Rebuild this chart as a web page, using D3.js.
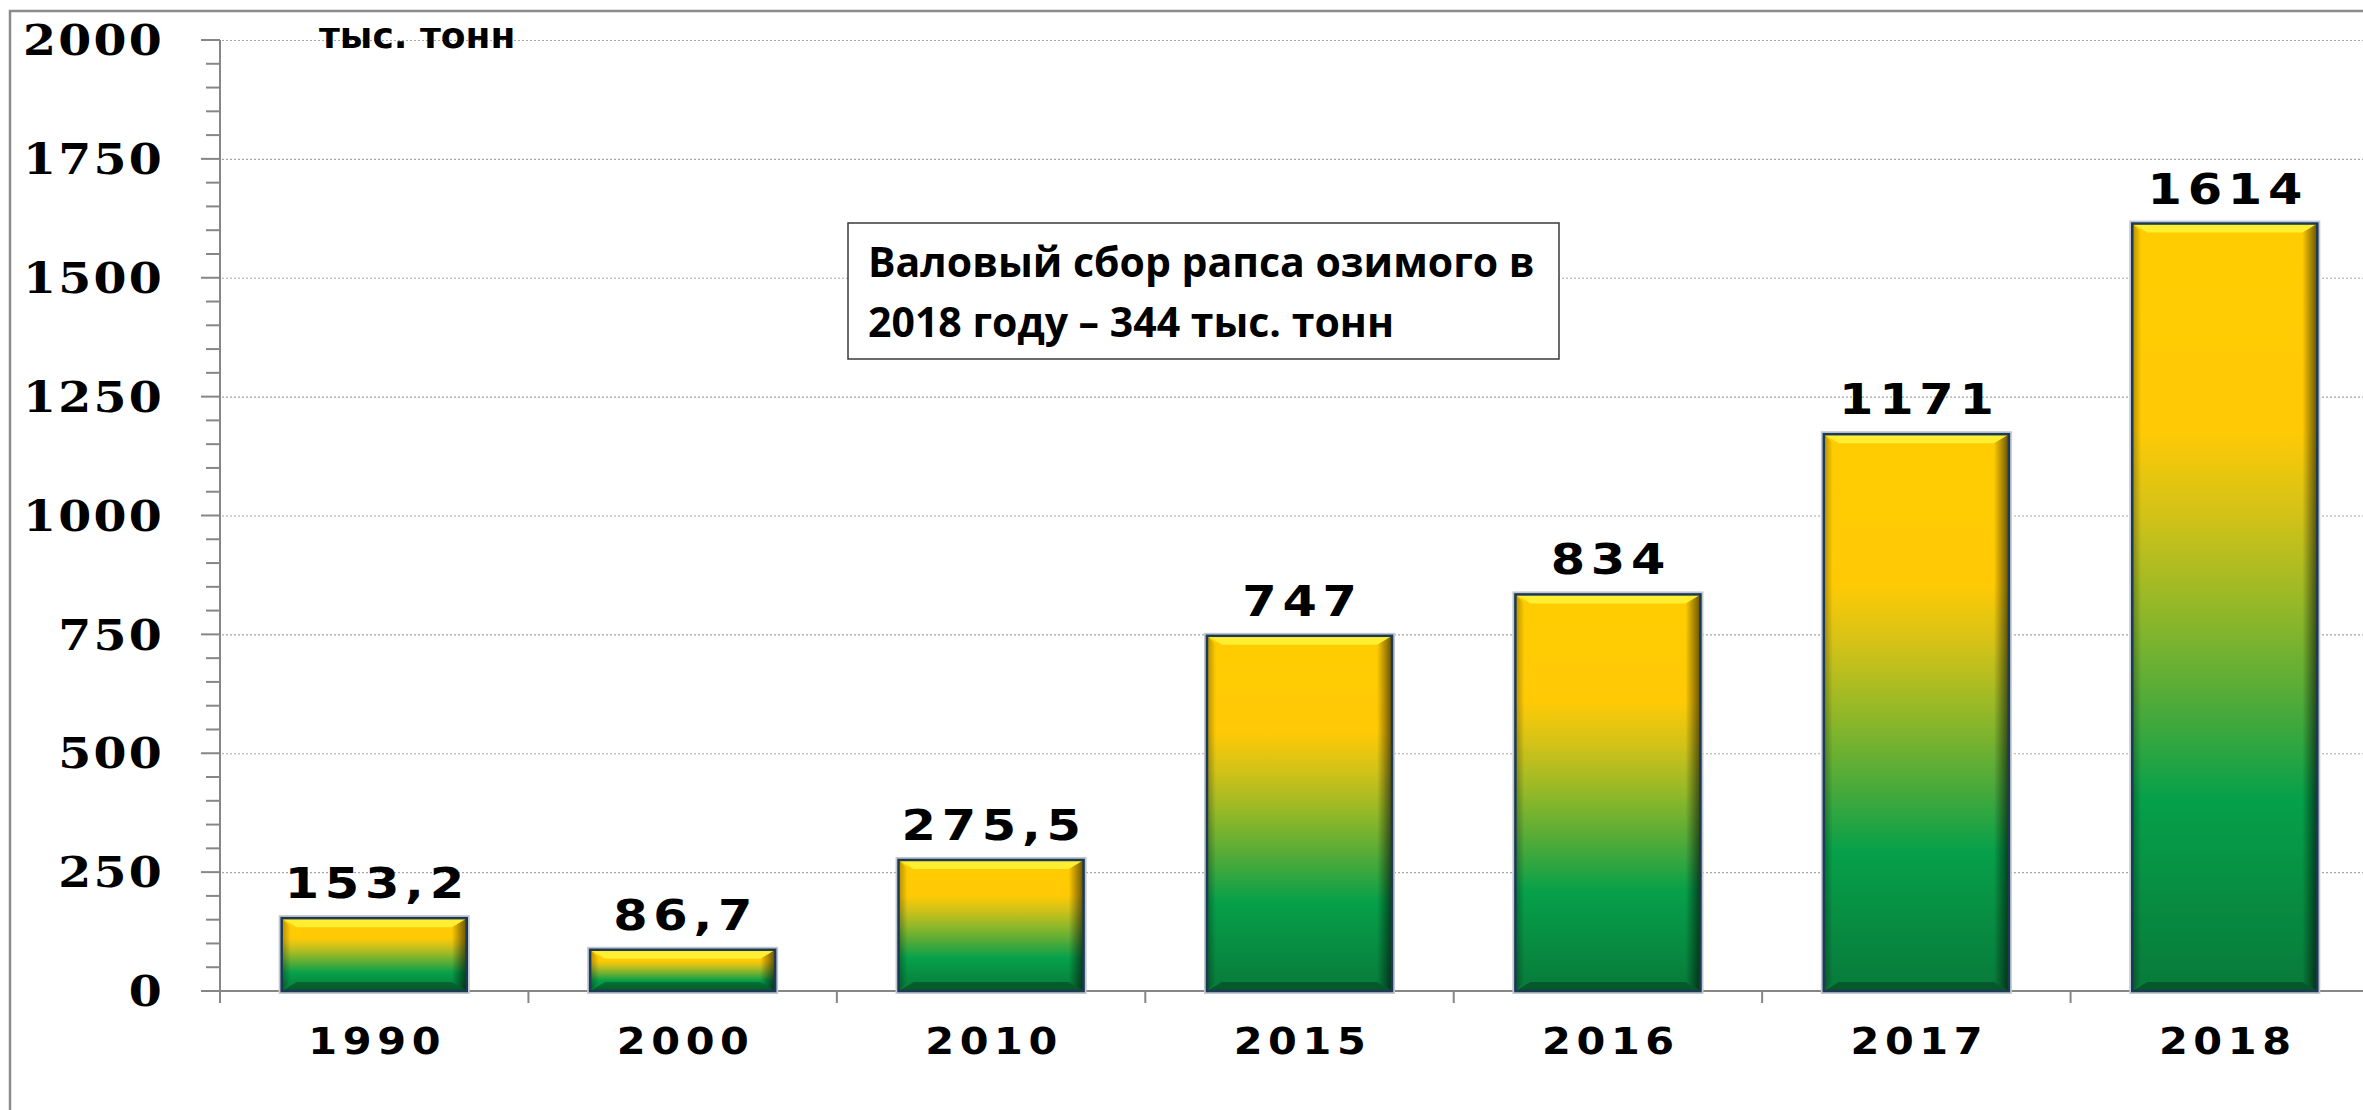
<!DOCTYPE html>
<html>
<head>
<meta charset="utf-8">
<script src="https://cdn.jsdelivr.net/npm/d3@7"></script>
<style>
    body { margin: 0; background: #fff; }
    svg { display: block; }
</style>
</head>
<body>
<svg id="chart"></svg>
<script>
// data
const years = ['1990', '2000', '2010', '2015', '2016', '2017', '2018'];
const harvest = [153.2, 86.7, 275.5, 747, 834, 1171, 1614];
const yTicks = [0, 250, 500, 750, 1000, 1250, 1500, 1750, 2000];
const unitLabel = 'тыс. тонн';
const noteLines = ['Валовый сбор рапса озимого в', '2018 году – 344 тыс. тонн'];

const width = 2363, height = 1110;
const svg = d3.select('#chart').attr('width', width).attr('height', height);

const ru = d3.formatLocale({decimal: ',', thousands: ' ', grouping: [3], currency: ['', '']});
const fmt = ru.format('~f');

// scales
const x = d3.scaleBand()
    .domain(years)
    .range([220, 2379])
    .paddingInner(0.4)
    .paddingOuter(0.2);

const y = d3.scaleLinear()
    .domain([0, 2000])
    .range([991, 40]);

// gradients
const defs = svg.append('defs');
const grad = defs.append('linearGradient')
    .attr('id', 'barGrad')
    .attr('x1', 0).attr('y1', 0).attr('x2', 0).attr('y2', 1);
[[0, '#ffcc00'], [0.27, '#ffca05'], [0.38, '#d2c218'], [0.5, '#93b828'],
 [0.63, '#4caa3a'], [0.75, '#06a04a'], [1, '#087a3a']]
    .forEach(s => grad.append('stop').attr('offset', s[0]).attr('stop-color', s[1]));

const rShade = defs.append('linearGradient')
    .attr('id', 'rightShade')
    .attr('x1', 0).attr('y1', 0).attr('x2', 1).attr('y2', 0);
rShade.append('stop').attr('offset', 0).attr('stop-color', '#000').attr('stop-opacity', 0);
rShade.append('stop').attr('offset', 1).attr('stop-color', '#000').attr('stop-opacity', 0.6);

const lShade = defs.append('linearGradient')
    .attr('id', 'leftShade')
    .attr('x1', 0).attr('y1', 0).attr('x2', 1).attr('y2', 0);
lShade.append('stop').attr('offset', 0).attr('stop-color', '#000').attr('stop-opacity', 0.3);
lShade.append('stop').attr('offset', 1).attr('stop-color', '#000').attr('stop-opacity', 0);

// outer frame
svg.append('rect')
    .attr('x', 10).attr('y', 11)
    .attr('width', 2450).attr('height', 1200)
    .attr('fill', 'none')
    .attr('stroke', '#8c8c8c')
    .attr('stroke-width', 2.5);

// grid
svg.append('g')
    .selectAll('line')
    .data(yTicks.filter(d => d > 0))
    .join('line')
    .attr('x1', 222).attr('x2', width)
    .attr('y1', d => y(d) + 0.5).attr('y2', d => y(d) + 0.5)
    .attr('stroke', '#a6a6a6')
    .attr('stroke-width', 1.2)
    .attr('stroke-dasharray', '2,2');

// y axis
const minor = d3.range(0, 2001, 50).filter(d => !yTicks.includes(d));
const yAxis = svg.append('g').attr('class', 'axis');
yAxis.selectAll('line.minor')
    .data(minor)
    .join('line')
    .attr('class', 'minor')
    .attr('x1', 206).attr('x2', 220)
    .attr('y1', d => y(d)).attr('y2', d => y(d))
    .attr('stroke', '#868686').attr('stroke-width', 2);
yAxis.selectAll('line.major')
    .data(yTicks)
    .join('line')
    .attr('class', 'major')
    .attr('x1', 201).attr('x2', 220)
    .attr('y1', d => y(d)).attr('y2', d => y(d))
    .attr('stroke', '#868686').attr('stroke-width', 2);
yAxis.append('line')
    .attr('x1', 220).attr('x2', 220)
    .attr('y1', y(2000)).attr('y2', 1003)
    .attr('stroke', '#868686').attr('stroke-width', 2);
yAxis.selectAll('text')
    .data(yTicks)
    .join('text')
    .attr('transform', d => `translate(164,${y(d)}) scale(1.13,1)`)
    .attr('dy', '0.36em')
    .attr('text-anchor', 'end')
    .attr('font-family', 'DejaVu Serif')
    .attr('font-weight', 'bold')
    .attr('font-size', 42)
    .attr('letter-spacing', 2)
    .text(d => d);

// x axis
const step = x.step();
const bounds = years.map(d => x(d) - step * x.paddingOuter()).concat([x.range()[1]]);
const xAxis = svg.append('g').attr('class', 'axis');
xAxis.append('line')
    .attr('x1', 201).attr('x2', width)
    .attr('y1', y(0)).attr('y2', y(0))
    .attr('stroke', '#868686').attr('stroke-width', 2);
xAxis.selectAll('line.tick')
    .data(bounds)
    .join('line')
    .attr('class', 'tick')
    .attr('x1', d => d).attr('x2', d => d)
    .attr('y1', y(0)).attr('y2', y(0) + 12)
    .attr('stroke', '#868686').attr('stroke-width', 2);
xAxis.selectAll('text')
    .data(years)
    .join('text')
    .attr('transform', d => `translate(${x(d) + x.bandwidth() / 2 + 3},1054) scale(1.12,1)`)
    .attr('text-anchor', 'middle')
    .attr('font-family', 'DejaVu Sans')
    .attr('font-weight', 'bold')
    .attr('font-size', 37)
    .attr('letter-spacing', 5)
    .text(d => d);

// bars
const bw = x.bandwidth();
const bv = 9, bs = 15;
const bars = svg.append('g')
    .selectAll('g')
    .data(years.map((d, i) => ({year: d, value: harvest[i]})))
    .join('g')
    .attr('transform', d => `translate(${x(d.year)},${y(d.value)})`);

bars.append('rect')
    .attr('width', bw)
    .attr('height', d => y(0) - y(d.value))
    .attr('fill', 'none')
    .attr('stroke', '#c2c8d0')
    .attr('stroke-width', 6);
bars.append('rect')
    .attr('width', bw)
    .attr('height', d => y(0) - y(d.value))
    .attr('fill', 'url(#barGrad)');
bars.append('polygon')
    .attr('points', d => {
        const h = y(0) - y(d.value);
        return [[bw - bs, bv], [bw, 0], [bw, h], [bw - bs, h - bv]].join(' ');
    })
    .attr('fill', 'url(#rightShade)');
bars.append('polygon')
    .attr('points', d => {
        const h = y(0) - y(d.value);
        return [[0, 0], [bv, bv], [bv, h - bv], [0, h]].join(' ');
    })
    .attr('fill', 'url(#leftShade)');
bars.append('polygon')
    .attr('points', [[0, 0], [bw, 0], [bw - bs, bv], [bs, bv]].join(' '))
    .attr('fill', '#fff43a')
    .attr('opacity', 0.85);
bars.append('polygon')
    .attr('points', d => {
        const h = y(0) - y(d.value);
        return [[0, h], [bs, h - bv], [bw - bs, h - bv], [bw, h]].join(' ');
    })
    .attr('fill', '#000')
    .attr('opacity', 0.28);
bars.append('rect')
    .attr('width', bw)
    .attr('height', d => y(0) - y(d.value))
    .attr('fill', 'none')
    .attr('stroke', '#1c3a56')
    .attr('stroke-width', 2.5);

// value labels
bars.append('text')
    .attr('transform', `translate(${bw / 2 + 3},-20) scale(1.15,1)`)
    .attr('text-anchor', 'middle')
    .attr('font-family', 'DejaVu Sans')
    .attr('font-weight', 'bold')
    .attr('font-size', 43)
    .attr('letter-spacing', 5)
    .text(d => fmt(d.value));

// unit label
svg.append('text')
    .attr('x', 319).attr('y', 48)
    .attr('font-family', 'DejaVu Sans')
    .attr('font-weight', 'bold')
    .attr('font-size', 36)
    .text(unitLabel);

// note box
const note = svg.append('g').attr('transform', 'translate(848,223)');
note.append('rect')
    .attr('width', 711).attr('height', 136)
    .attr('fill', '#fff')
    .attr('stroke', '#3a3a3a')
    .attr('stroke-width', 1.5);
note.selectAll('text')
    .data(noteLines)
    .join('text')
    .attr('x', 20)
    .attr('y', (d, i) => 54 + i * 60)
    .attr('font-family', 'Open Sans')
    .attr('font-weight', 'bold')
    .attr('font-size', 41)
    .text(d => d);
</script>
</body>
</html>
